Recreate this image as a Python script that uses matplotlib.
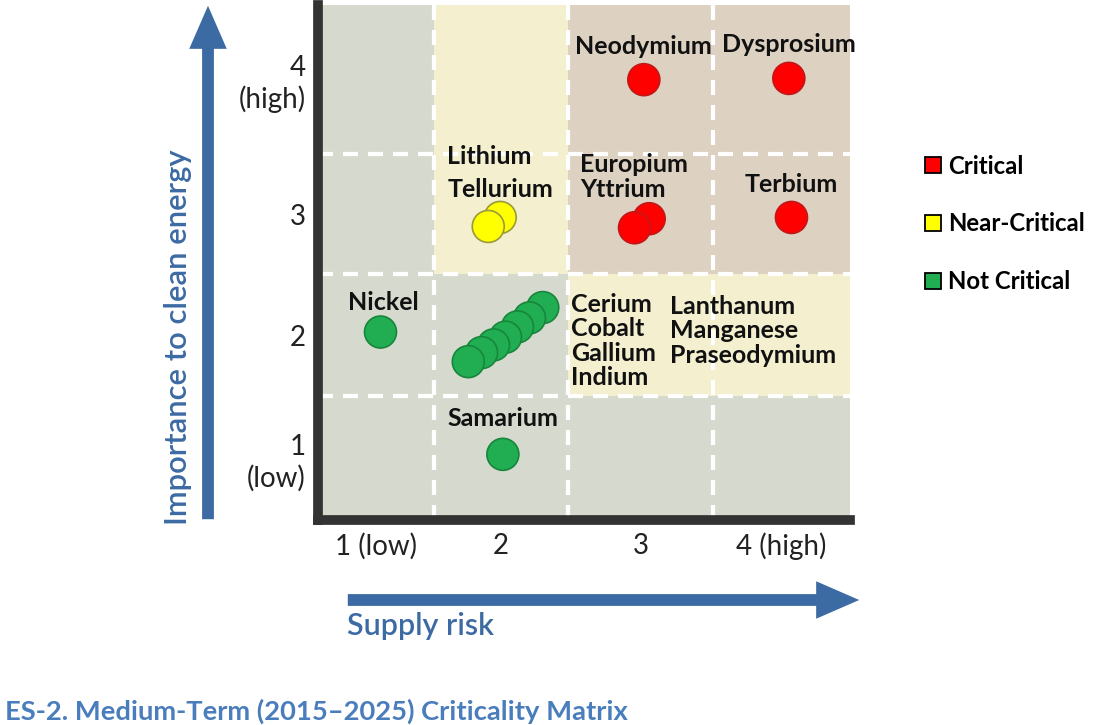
import matplotlib.pyplot as plt
from matplotlib.lines import Line2D
from matplotlib.patches import FancyArrowPatch, Rectangle

W, H = 1104, 725
plt.rcParams["font.family"] = ["Lato", "DejaVu Sans"]

# grid of the matrix (data units), ticks sit in the middle of each cell
x_edges = [0.5, 1.372, 2.38, 3.47, 4.5]
y_edges = [0.5, 1.463, 2.41, 3.343, 4.5]
x_ticklabels = ["1 (low)", "2", "3", "4 (high)"]
y_ticklabels = ["1\n(low)", "2", "3", "4\n(high)"]

# zone of each cell, rows bottom -> top, columns left -> right
zones = [
    ["grey", "grey", "grey", "grey"],
    ["grey", "grey", "yellow", "yellow"],
    ["grey", "yellow", "tan", "tan"],
    ["grey", "yellow", "tan", "tan"],
]
zone_colors = {"grey": "#d6dace", "yellow": "#f3efcf", "tan": "#ddd1c1"}

# elements (later ones drawn on top)
elements = ["Neodymium", "Dysprosium", "Europium", "Yttrium", "Terbium",
            "Lithium", "Tellurium", "Nickel", "Samarium",
            "Praseodymium", "Manganese", "Lanthanum", "Indium", "Gallium", "Cobalt", "Cerium"]
supply_risk = [2.95, 4.04, 2.99, 2.88, 4.06,
               1.87, 1.78, 0.97, 1.89,
               2.19, 2.09, 2.00, 1.91, 1.82, 1.73, 1.63]
importance = [3.92, 3.93, 2.84, 2.77, 2.85,
              2.85, 2.78, 1.96, 1.01,
              2.15, 2.07, 2.00, 1.92, 1.86, 1.80, 1.73]
status = ["Critical"] * 5 + ["Near-Critical"] * 2 + ["Not Critical"] * 9

status_names = ["Critical", "Near-Critical", "Not Critical"]
status_fill = {"Critical": "#ff0000", "Near-Critical": "#ffff00", "Not Critical": "#21ad52"}
status_edge = {"Critical": "#c01818", "Near-Critical": "#9a9a3a", "Not Critical": "#17863c"}

# labels drawn next to a single point: (dx px, dy px, ha)
label_offsets = {
    "Neodymium": (0, 33, "center"),
    "Dysprosium": (0, 34, "center"),
    "Terbium": (0, 33, "center"),
    "Nickel": (3, 30, "center"),
    "Samarium": (0, 36, "center"),
    "Europium": (-69, 54, "left"),
    "Yttrium": (-54, 38, "left"),
    "Lithium": (-53, 61, "left"),
    "Tellurium": (-41, 37, "left"),
}
cluster_left = ["Cerium", "Cobalt", "Gallium", "Indium"]
cluster_right = ["Lanthanum", "Manganese", "Praseodymium"]

BLUE = "#3c6aa3"
TITLE_BLUE = "#4a7dbb"
LABEL_SIZE = 18
TICK_SIZE = 20

fig = plt.figure(figsize=(W / 100, H / 100), dpi=100)
ax = fig.add_axes([318 / W, 1 - 520 / H, (850 - 318) / W, (520 - 5) / H])

for r, row in enumerate(zones):
    for c, zone in enumerate(row):
        ax.add_patch(Rectangle((x_edges[c], y_edges[r]), x_edges[c + 1] - x_edges[c],
                               y_edges[r + 1] - y_edges[r], facecolor=zone_colors[zone],
                               edgecolor="none", zorder=0))

for x in x_edges[1:-1]:
    ax.axvline(x, color="white", lw=3, linestyle=(0, (3.6, 2.4)), zorder=1)
for y in y_edges[1:-1]:
    ax.axhline(y, color="white", lw=3, linestyle=(0, (3.6, 2.4)), zorder=1)

ax.scatter(supply_risk, importance, s=530,
           c=[status_fill[s] for s in status],
           edgecolors=[status_edge[s] for s in status], linewidths=1.2, zorder=3)

for name, x, y in zip(elements, supply_risk, importance):
    if name in label_offsets:
        dx, dy, ha = label_offsets[name]
        ax.annotate(name, (x, y), xytext=(dx, dy), textcoords="offset pixels",
                    ha=ha, va="center", fontsize=LABEL_SIZE, fontweight="bold",
                    color="#111111", zorder=4)

ax.text(2.40, 1.89, "\n".join(cluster_left), ha="left", va="center", color="#111111",
        fontsize=LABEL_SIZE, fontweight="bold", linespacing=1.07, zorder=4)
ax.text(3.147, 1.968, "\n".join(cluster_right), ha="left", va="center", color="#111111",
        fontsize=LABEL_SIZE, fontweight="bold", linespacing=1.07, zorder=4)

ax.set_xlim(x_edges[0], x_edges[-1])
ax.set_ylim(y_edges[0], y_edges[-1])
ax.set_xticks([(a + b) / 2 for a, b in zip(x_edges[:-1], x_edges[1:])])
ax.set_yticks([(a + b) / 2 for a, b in zip(y_edges[:-1], y_edges[1:])])
ax.set_xticklabels(x_ticklabels, fontsize=TICK_SIZE, color="#222222")
ax.set_yticklabels(y_ticklabels, fontsize=TICK_SIZE, color="#222222")
for lbl in ax.get_yticklabels():
    lbl.set_multialignment("right")
ax.tick_params(length=0, pad=9)
for side in ["top", "right"]:
    ax.spines[side].set_visible(False)
for side in ["left", "bottom"]:
    ax.spines[side].set_linewidth(7)
    ax.spines[side].set_color("#333333")
    ax.spines[side].set_capstyle("projecting")
    ax.spines[side].set_zorder(5)

# axis arrows
arrow_style = "simple,head_width=27,head_length=31,tail_width=8.5"
fig.add_artist(FancyArrowPatch((208 / W, 1 - 522 / H), (208 / W, 1 - 3 / H),
                               transform=fig.transFigure, arrowstyle=arrow_style,
                               mutation_scale=1, color=BLUE, lw=0))
fig.add_artist(FancyArrowPatch((345 / W, 1 - 600 / H), (862 / W, 1 - 600 / H),
                               transform=fig.transFigure, arrowstyle=arrow_style,
                               mutation_scale=1, color=BLUE, lw=0))
fig.text(178 / W, 1 - 337 / H, "Importance to clean energy", rotation=90,
         ha="center", va="center", fontsize=22.3, color=BLUE, fontweight="semibold")
fig.text(347 / W, 1 - 626 / H, "Supply risk", ha="left", va="center",
         fontsize=22, color=BLUE, fontweight="semibold")

handles = [Line2D([], [], marker="s", linestyle="none", markersize=12,
                  markerfacecolor=status_fill[s], markeredgecolor="black", markeredgewidth=1.3)
           for s in status_names]
fig.legend(handles, status_names, loc="upper left", bbox_to_anchor=(902 / W, 1 - 133 / H),
           frameon=False, labelspacing=1.45, handlelength=0.8,
           handletextpad=0.2, prop={"weight": "bold", "size": 17.3})

fig.text(5 / W, 1 - 711 / H, "ES-2. Medium-Term (2015\u20132025) Criticality Matrix",
         ha="left", va="center", fontsize=19.7, color=TITLE_BLUE, fontweight="bold")

fig.savefig("out.png", dpi=100, facecolor="white")
